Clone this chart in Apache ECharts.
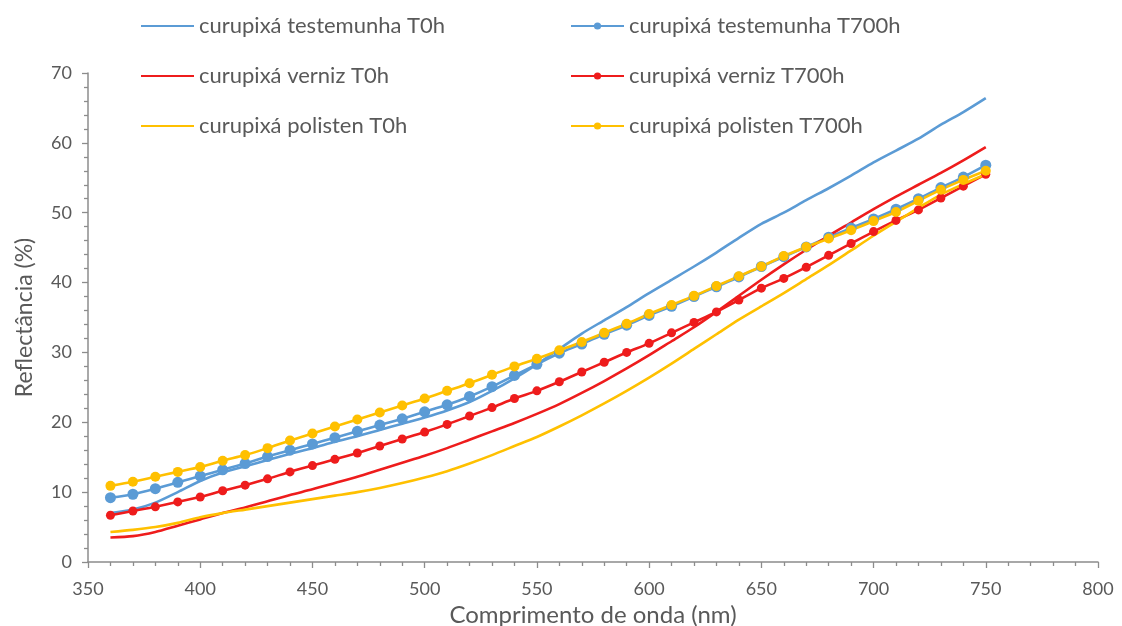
<!DOCTYPE html>
<html>
<head>
<meta charset="utf-8">
<script src="https://cdn.jsdelivr.net/npm/echarts@6/dist/echarts.min.js"></script>
<style>
  html, body { margin: 0; padding: 0; background: #ffffff; }
  #chart { width: 1122px; height: 626px; }
</style>
</head>
<body>
<div id="chart"></div>
<script>
// Wavelengths (nm) at which reflectance was sampled
const wavelengths = [360, 370, 380, 390, 400, 410, 420, 430, 440, 450,
                     460, 470, 480, 490, 500, 510, 520, 530, 540, 550,
                     560, 570, 580, 590, 600, 610, 620, 630, 640, 650,
                     660, 670, 680, 690, 700, 710, 720, 730, 740, 750];

// Reflectance (%) for each treatment, before (T0h) and after 700 h (T700h)
const testemunhaT0h = [7.0, 7.5, 8.5, 10.0, 11.6, 12.8, 13.7, 14.6, 15.5, 16.3,
                       17.2, 18.0, 18.9, 19.8, 20.7, 21.7, 22.9, 24.5, 26.3, 28.3,
                       30.5, 32.7, 34.6, 36.5, 38.5, 40.4, 42.3, 44.3, 46.4, 48.4,
                       50.0, 51.8, 53.5, 55.3, 57.2, 58.9, 60.6, 62.6, 64.4, 66.4];
const testemunhaT700h = [9.2, 9.7, 10.5, 11.4, 12.3, 13.2, 14.1, 15.1, 16.0, 16.9,
                         17.8, 18.7, 19.6, 20.5, 21.5, 22.5, 23.7, 25.1, 26.7, 28.3,
                         29.9, 31.2, 32.6, 33.9, 35.3, 36.6, 38.0, 39.4, 40.8, 42.3,
                         43.7, 45.1, 46.5, 47.8, 49.1, 50.5, 52.0, 53.6, 55.1, 56.8];
const vernizT0h = [3.5, 3.7, 4.3, 5.2, 6.1, 7.0, 7.8, 8.7, 9.6, 10.4,
                   11.3, 12.2, 13.2, 14.2, 15.2, 16.3, 17.5, 18.7, 19.9, 21.2,
                   22.6, 24.2, 25.9, 27.7, 29.6, 31.6, 33.6, 35.8, 38.1, 40.4,
                   42.6, 44.7, 46.7, 48.6, 50.5, 52.3, 54.0, 55.7, 57.5, 59.4];
const vernizT700h = [6.7, 7.3, 7.9, 8.6, 9.3, 10.2, 11.0, 11.9, 12.9, 13.8,
                     14.7, 15.6, 16.6, 17.6, 18.6, 19.7, 20.9, 22.1, 23.4, 24.5,
                     25.8, 27.2, 28.6, 30.0, 31.3, 32.8, 34.3, 35.8, 37.5, 39.2,
                     40.6, 42.2, 43.9, 45.6, 47.3, 48.9, 50.4, 52.1, 53.8, 55.5];
const polistenT0h = [4.3, 4.6, 5.0, 5.6, 6.4, 7.0, 7.5, 8.0, 8.5, 9.0,
                     9.5, 10.0, 10.6, 11.3, 12.1, 13.0, 14.1, 15.3, 16.6, 17.9,
                     19.4, 21.0, 22.7, 24.5, 26.4, 28.4, 30.5, 32.6, 34.7, 36.6,
                     38.5, 40.5, 42.5, 44.6, 46.7, 48.7, 50.7, 52.6, 54.1, 55.5];
const polistenT700h = [10.9, 11.5, 12.2, 12.9, 13.6, 14.5, 15.3, 16.3, 17.4, 18.4,
                       19.4, 20.4, 21.4, 22.4, 23.4, 24.5, 25.6, 26.8, 28.0, 29.1,
                       30.3, 31.5, 32.8, 34.1, 35.5, 36.8, 38.1, 39.5, 40.9, 42.3,
                       43.8, 45.1, 46.3, 47.5, 48.8, 50.1, 51.7, 53.3, 54.7, 56.0];

const seriesNames = ['curupixá testemunha T0h', 'curupixá testemunha T700h',
                     'curupixá verniz T0h', 'curupixá verniz T700h',
                     'curupixá polisten T0h', 'curupixá polisten T700h'];

// Axis ranges and steps
const xMin = 350, xMax = 800, xStep = 50;
const yMin = 0, yMax = 70, yStep = 10;

const BLUE = '#5b9bd5', RED = '#ee1c1c', YELLOW = '#ffc000';
const TEXT = '#595959', AXIS = '#8c8c8c';
const FONT = 'Lato, "Open Sans", sans-serif';

function pairs(ys) { return wavelengths.map((w, i) => [w, ys[i]]); }

function lineSeries(name, values, color, marker, size) {
  return {
    name: name,
    type: 'line',
    data: pairs(values),
    smooth: 0.25,
    showSymbol: !!marker,
    symbol: marker || 'none',
    symbolSize: size || 0,
    lineStyle: { color: color, width: 2.6 },
    itemStyle: { color: color, borderWidth: 0 },
    emphasis: { disabled: true },
    animation: false
  };
}

// One legend block per entry, laid out in two columns of three rows;
// the plain (T0h) entries hide the dot so only the line sample remains
const legendCols = [140, 570];
const legendRows = [15, 65, 115];
const legends = seriesNames.map((name, i) => ({
  data: [name],
  left: legendCols[i % 2],
  top: legendRows[Math.floor(i / 2)],
  padding: 0,
  itemWidth: 53,
  itemHeight: 9,
  itemGap: 0,
  selectedMode: false,
  itemStyle: i % 2 === 0 ? { opacity: 0 } : {},
  textStyle: { color: TEXT, fontSize: 22, fontFamily: FONT }
}));

const chart = echarts.init(document.getElementById('chart'), null, { renderer: 'canvas' });
chart.setOption({
  backgroundColor: '#ffffff',
  animation: false,
  legend: legends,
  grid: { left: 88, right: 24, top: 73, bottom: 64, containLabel: false, outerBoundsMode: 'none' },
  xAxis: {
    type: 'value',
    min: xMin, max: xMax, interval: xStep,
    name: 'Comprimento de onda (nm)',
    nameLocation: 'middle',
    nameGap: 30,
    nameTextStyle: { color: TEXT, fontSize: 24, fontFamily: FONT },
    axisLine: { show: true, lineStyle: { color: AXIS, width: 1.5 } },
    axisTick: { show: true, length: 6, lineStyle: { color: AXIS, width: 1.3 } },
    minorTick: { show: true, splitNumber: 5, length: 4, lineStyle: { color: AXIS, width: 1.3 } },
    axisLabel: { color: TEXT, fontSize: 18, fontFamily: FONT, margin: 18 },
    splitLine: { show: false }
  },
  yAxis: {
    type: 'value',
    min: yMin, max: yMax, interval: yStep,
    name: 'Reflectância (%)',
    nameLocation: 'middle',
    nameGap: 52,
    nameRotate: 90,
    nameTextStyle: { color: TEXT, fontSize: 23, fontFamily: FONT },
    axisLine: { show: true, lineStyle: { color: AXIS, width: 1.5 } },
    axisTick: { show: true, length: 6, lineStyle: { color: AXIS, width: 1.3 } },
    minorTick: { show: true, splitNumber: 5, length: 4, lineStyle: { color: AXIS, width: 1.3 } },
    axisLabel: { color: TEXT, fontSize: 18, fontFamily: FONT, margin: 16 },
    splitLine: { show: false }
  },
  series: [
    lineSeries(seriesNames[0], testemunhaT0h, BLUE),
    lineSeries(seriesNames[1], testemunhaT700h, BLUE, 'circle', 11),
    lineSeries(seriesNames[2], vernizT0h, RED),
    lineSeries(seriesNames[3], vernizT700h, RED, 'circle', 9),
    lineSeries(seriesNames[4], polistenT0h, YELLOW),
    lineSeries(seriesNames[5], polistenT700h, YELLOW, 'circle', 10)
  ]
});
</script>
</body>
</html>
